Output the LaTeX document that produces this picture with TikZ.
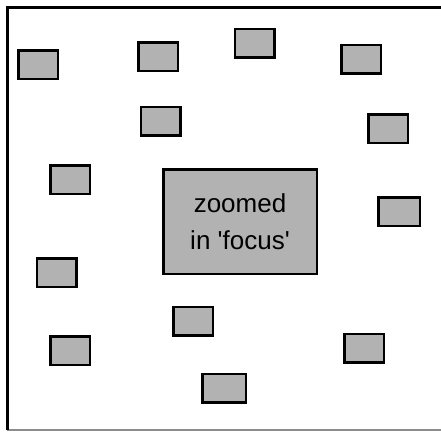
\documentclass[tikz,border=0pt]{standalone}
\usepackage{fontspec}
\setmainfont{Liberation Sans}
\usetikzlibrary{positioning}
\definecolor{boxgray}{RGB}{178,178,178}
\definecolor{edgegray}{RGB}{140,140,140}

\tikzset{
  item/.style={draw=black, fill=boxgray, line width=2.5pt, inner sep=0pt,
    minimum width=39.5pt, minimum height=28.5pt},
  focusbox/.style={item, minimum width=153.5pt, minimum height=104.5pt,
    align=center, font=\fontsize{26}{37}\selectfont}
}

\begin{document}
\begin{tikzpicture}[x=1pt, y=-1pt]
  \useasboundingbox (0,0) rectangle (441,432);
  % Frame
  \draw[edgegray, line width=1.5pt] (7,430) -- (441,430);
  \draw[black, line width=3pt] (7,430) -- (7,7) -- (441,7);
  % Zoomed-in centre
  \node[focusbox] (focus) at (240,221.5) {zoomed\\in \textquotesingle focus\textquotesingle};
  % Context items round it
  \node[item] (i1) at (38,64.5) {};
  \node[item] (i2) at (158,56.5) {};
  \node[item] (i3) at (254.5,43) {};
  \node[item] (i4) at (361,59) {};
  \node[item] (i5) at (160.5,121) {};
  \node[item] (i6) at (388,128.5) {};
  \node[item] (i7) at (70,179.5) {};
  \node[item, minimum width=41.5pt] (i8) at (399,211.5) {};
  \node[item] (i9) at (56.5,272.5) {};
  \node[item] (i10) at (193,321) {};
  \node[item] (i11) at (70,350.5) {};
  \node[item] (i12) at (364,348) {};
  \node[item, minimum width=43.5pt] (i13) at (224,388) {};
\end{tikzpicture}
\end{document}
